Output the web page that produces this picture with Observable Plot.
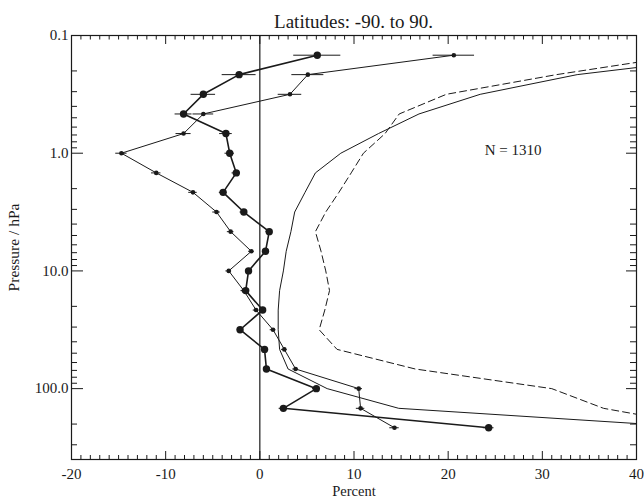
<!DOCTYPE html>
<html>
<head>
<meta charset="utf-8">
<script src="https://cdn.jsdelivr.net/npm/d3@7"></script>
<script src="https://cdn.jsdelivr.net/npm/@observablehq/plot@0.6"></script>
<style>
  html, body { margin: 0; padding: 0; background: #fff; }
  #wrap { width: 644px; height: 498px; font-family: "Liberation Serif", "Times New Roman", serif; color: #1a1a1a; }
  #title { height: 24px; box-sizing: border-box; padding-top: 11px; padding-left: 71px; width: 636px; text-align: center; font-size: 19px; line-height: 21px; white-space: nowrap; position: relative; z-index: 1; }
  #chart svg { overflow: visible; display: block; }
</style>
</head>
<body>
<div id="wrap">
  <div id="title">Latitudes: -90. to 90.</div>
  <div id="chart"></div>
</div>
<script>
// Pressure levels (hPa)
const levels = [0.147, 0.215, 0.316, 0.464, 0.681, 1.0, 1.47, 2.15, 3.16, 4.64, 6.81, 10, 14.7, 21.5, 31.6, 46.4, 68.1, 100, 147, 215];
// Thick series with large dots (percent)
const seriesA = [6.1, -2.2, -6.0, -8.1, -3.6, -3.2, -2.5, -3.9, -1.7, 1.0, 0.6, -1.2, -1.5, 0.3, -2.1, 0.5, 0.7, 6.0, 2.5, 24.3];
const errA    = [2.5, 1.8, 1.3, 0.9, 0.67, 0.5, 0.45, 0.4, 0.4, 0.35, 0.3, 0.3, 0.3, 0.3, 0.3, 0.3, 0.3, 0.4, 0.45, 0.57];
// Thin series with small dots (percent)
const seriesB = [20.6, 5.1, 3.2, -6.0, -8.1, -14.7, -11.0, -7.1, -4.6, -3.1, -0.9, -3.3, -1.7, -0.4, 1.4, 2.6, 3.8, 10.5, 10.7, 14.3];
const errB    = [2.2, 1.7, 1.25, 1.1, 0.8, 0.6, 0.5, 0.45, 0.4, 0.35, 0.3, 0.3, 0.3, 0.3, 0.3, 0.3, 0.3, 0.4, 0.45, 0.5];
// Solid curve without markers (percent)
const solidCurve  = [51, 33.7, 23.4, 16.9, 12.6, 8.6, 5.9, 4.8, 3.7, 3.3, 2.8, 2.5, 2.1, 1.95, 1.95, 2.1, 3.0, 7.15, 14.75, 47];
// Dashed curve (percent)
const dashedCurve = [45, 31.5, 19.8, 14.8, 13.3, 11.0, 9.7, 8.4, 7.0, 5.9, 6.5, 7.0, 7.4, 6.9, 6.3, 8.2, 16.5, 31.0, 36.5, 48];

// Axis ticks
const xMajor = [-20, -10, 0, 10, 20, 30, 40];
const xMinor = [-19,-18,-17,-16,-15,-14,-13,-12,-11,-9,-8,-7,-6,-5,-4,-3,-2,-1,1,2,3,4,5,6,7,8,9,11,12,13,14,15,16,17,18,19,21,22,23,24,25,26,27,28,29,31,32,33,34,35,36,37,38,39];
const yMajor = [0.1, 1, 10, 100];
const yMinor = [0.2,0.3,0.4,0.5,0.6,0.7,0.8,0.9,2,3,4,5,6,7,8,9,20,30,40,50,60,70,80,90,200,300];
const xDomain = [-20, 40];
const yDomain = [0.1, 400];
const noteText = ["N = 1310"];
const notePos = {x: 26.9, p: 0.945};

const A = levels.map((p, i) => ({p, v: seriesA[i], e: errA[i]}));
const B = levels.map((p, i) => ({p, v: seriesB[i], e: errB[i]}));
const S = levels.map((p, i) => ({p, v: solidCurve[i]}));
const D = levels.map((p, i) => ({p, v: dashedCurve[i]}));

const W = 644, H = 474, mt = 11, mb = 39, ml = 71, mr = 8;
const plotW = W - ml - mr, plotH = H - mt - mb;
const ink = "#1a1a1a";
const font = "Liberation Serif, Times New Roman, serif";

const chart = Plot.plot({
  width: W, height: H,
  marginTop: mt, marginBottom: mb, marginLeft: ml, marginRight: mr,
  style: {fontFamily: font, color: ink, background: "transparent", overflow: "visible"},
  x: {domain: xDomain},
  y: {type: "log", domain: yDomain, reverse: true},
  marks: [
    // axis labels only (ticks drawn inward below)
    Plot.axisX({ticks: xMajor, tickSize: 0, tickPadding: 9, tickFormat: d => String(d), fontSize: 15, label: null}),
    Plot.axisY({ticks: yMajor, tickSize: 0, tickPadding: 3, tickFormat: d => d.toFixed(1), fontSize: 15, label: null}),
    // inward ticks
    Plot.ruleX(xMajor, {x: d => d, insetTop: plotH - 8, stroke: ink}),
    Plot.ruleX(xMinor, {x: d => d, insetTop: plotH - 4, stroke: ink}),
    Plot.ruleX(xMajor, {x: d => d, insetBottom: plotH - 9, stroke: ink}),
    Plot.ruleX(xMinor, {x: d => d, insetBottom: plotH - 4.5, stroke: ink}),
    Plot.ruleY(yMajor, {y: d => d, insetRight: plotW - 12, stroke: ink}),
    Plot.ruleY(yMinor, {y: d => d, insetRight: plotW - 6, stroke: ink}),
    Plot.ruleY(yMajor, {y: d => d, insetLeft: plotW - 10, stroke: ink}),
    Plot.ruleY(yMinor, {y: d => d, insetLeft: plotW - 6, stroke: ink}),
    // zero line
    Plot.ruleX([0], {stroke: ink, strokeWidth: 1.2}),
    // curves
    Plot.line(S, {x: "v", y: "p", stroke: ink, strokeWidth: 1, clip: true}),
    Plot.line(D, {x: "v", y: "p", stroke: ink, strokeWidth: 1, strokeDasharray: "7,4", clip: true}),
    // error bars
    Plot.ruleY(B, {y: "p", x1: d => d.v - d.e, x2: d => d.v + d.e, stroke: ink, strokeWidth: 1}),
    Plot.ruleY(A, {y: "p", x1: d => d.v - d.e, x2: d => d.v + d.e, stroke: ink, strokeWidth: 1}),
    // series
    Plot.line(B, {x: "v", y: "p", stroke: ink, strokeWidth: 1}),
    Plot.dot(B, {x: "v", y: "p", r: 2.3, fill: ink, stroke: "none"}),
    Plot.line(A, {x: "v", y: "p", stroke: ink, strokeWidth: 1.6}),
    Plot.dot(A, {x: "v", y: "p", r: 3.7, fill: ink, stroke: "none"}),
    // annotations
    Plot.text(noteText, {x: () => notePos.x, y: () => notePos.p, fontSize: 15, fill: ink}),
    Plot.text(["Percent"], {frameAnchor: "bottom", dy: 36, fontSize: 14.5, fill: ink}),
    Plot.text(["Pressure / hPa"], {frameAnchor: "left", dx: -57, rotate: -90, textAnchor: "middle", fontSize: 15.5, fill: ink}),
    Plot.frame({stroke: ink, strokeWidth: 1.2})
  ]
});
document.getElementById("chart").appendChild(chart);
</script>
</body>
</html>
